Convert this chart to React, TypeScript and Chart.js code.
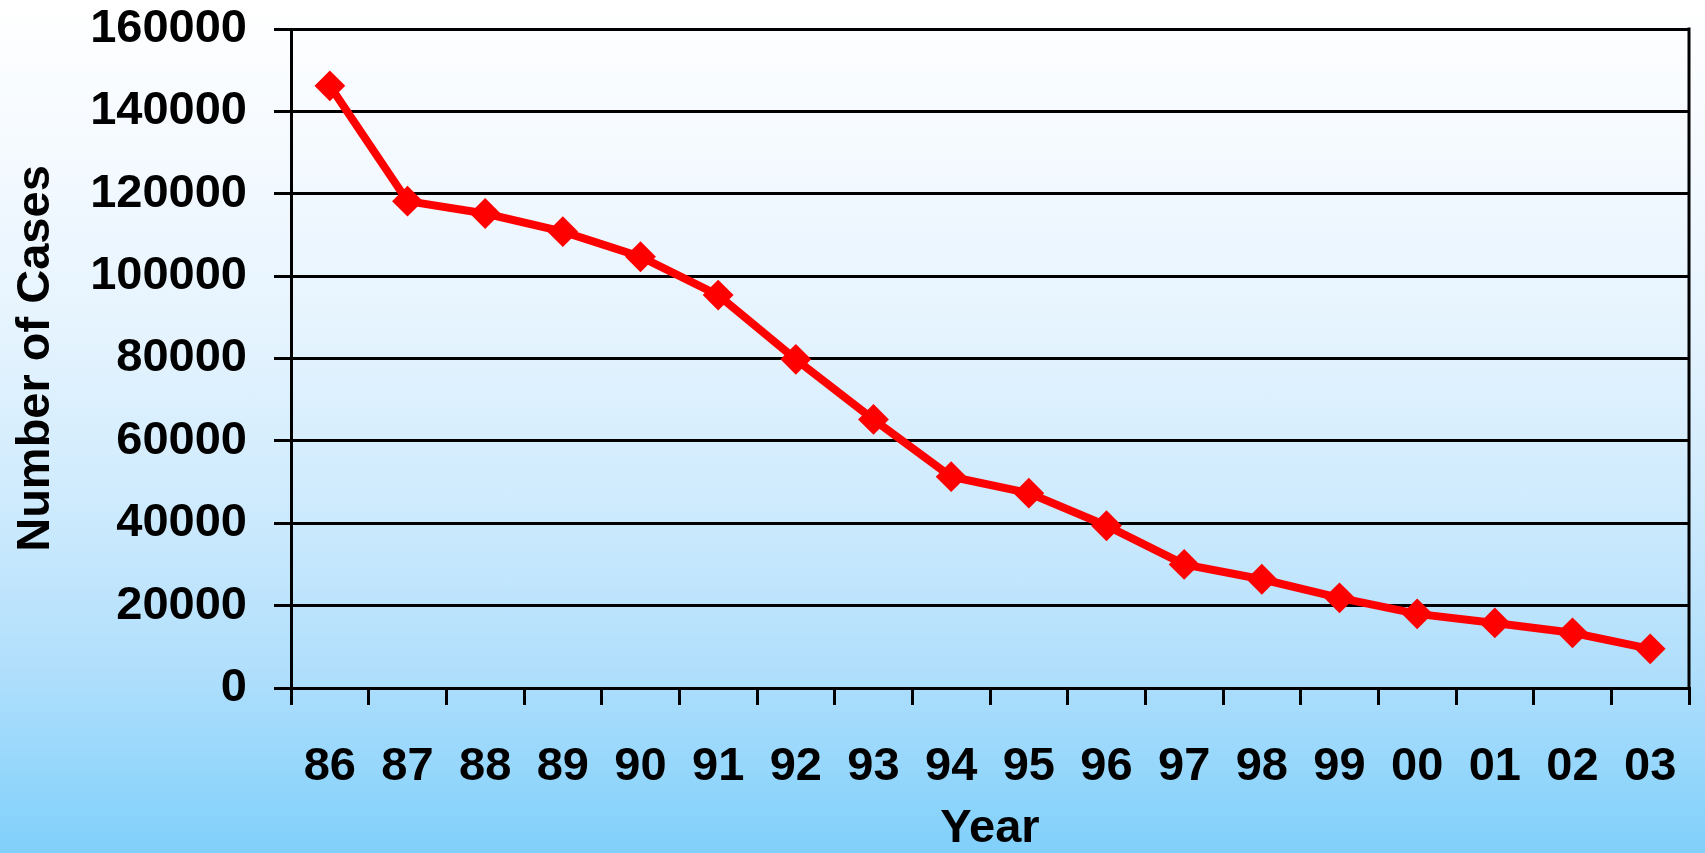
import React, { useEffect, useRef } from "react";
import { Chart, registerables } from "chart.js";

Chart.register(...registerables);

const years = ["86", "87", "88", "89", "90", "91", "92", "93", "94", "95", "96", "97", "98", "99", "00", "01", "02", "03"];
const cases = [146200, 118200, 115200, 110800, 104700, 95400, 79800, 65200, 51300, 47300, 39400, 30000, 26400, 21900, 18000, 15800, 13400, 9500];
const yMin = 0;
const yMax = 160000;
const yStep = 20000;
const xTitle = "Year";
const yTitle = "Number of Cases";

const FONT = "'Liberation Sans', Arial, sans-serif";

const rightBorder = {
  id: "rightBorder",
  beforeDatasetsDraw(chart: any) {
    const { ctx, chartArea } = chart;
    ctx.save();
    ctx.strokeStyle = "#000";
    ctx.lineWidth = 3;
    ctx.beginPath();
    ctx.moveTo(chartArea.right, chartArea.top - 1.5);
    ctx.lineTo(chartArea.right, chartArea.bottom);
    ctx.stroke();
    ctx.restore();
  },
};

export default function App() {
  const ref = useRef<HTMLCanvasElement>(null);

  useEffect(() => {
    document.body.style.margin = "0";
    const canvas = ref.current!;
    const chart = new Chart(canvas, {
      type: "line",
      data: {
        labels: years,
        datasets: [
          {
            data: cases,
            borderColor: "#ff0000",
            backgroundColor: "#ff0000",
            borderWidth: 8,
            pointStyle: "rectRot",
            pointRadius: 14,
            pointBorderWidth: 2,
            pointBackgroundColor: "#ff0000",
            pointBorderColor: "#ff0000",
            tension: 0,
          },
        ],
      },
      options: {
        responsive: false,
        animation: false,
        devicePixelRatio: 1,
        layout: { padding: { top: 29, right: 7, left: 0, bottom: 0 } },
        plugins: {
          legend: { display: false },
          tooltip: { enabled: false },
        },
        scales: {
          x: {
            type: "category",
            offset: true,
            grid: {
              offset: true,
              drawOnChartArea: false,
              drawTicks: true,
              tickLength: 17,
              color: "#000",
              lineWidth: 3,
            },
            border: { display: true, color: "#000", width: 3 },
            ticks: {
              color: "#000",
              padding: 34,
              maxRotation: 0,
              autoSkip: false,
              font: { family: FONT, size: 47, weight: "bold" },
            },
            title: {
              display: true,
              text: xTitle,
              color: "#000",
              padding: { top: -4, bottom: 0 },
              font: { family: FONT, size: 47, weight: "bold", lineHeight: 1 },
            },
            afterFit: (scale: any) => {
              scale.height = 165;
              scale.paddingLeft = 0;
              scale.paddingRight = 0;
            },
          },
          y: {
            min: yMin,
            max: yMax,
            ticks: {
              stepSize: yStep,
              color: "#000",
              padding: 27,
              font: { family: FONT, size: 47, weight: "bold" },
              callback: (v: any) => String(v),
            },
            grid: {
              color: "#000",
              lineWidth: 3,
              tickLength: 17,
            },
            border: { display: true, color: "#000", width: 3 },
            title: {
              display: true,
              text: yTitle,
              color: "#000",
              padding: { top: 13, bottom: 0 },
              font: { family: FONT, size: 47, weight: "bold", lineHeight: 1 },
            },
            afterFit: (scale: any) => {
              scale.width = 291;
              scale.paddingTop = 0;
              scale.paddingBottom = 0;
            },
          },
        },
      },
      plugins: [rightBorder],
    });
    return () => chart.destroy();
  }, []);

  return (
    <div
      style={{
        position: "absolute",
        left: 0,
        top: 0,
        width: 1705,
        height: 853,
        background:
          "linear-gradient(to bottom, #ffffff 0%, #f3f9ff 20%, #e4f3fe 40%, #cdeafd 60%, #b1dffc 78%, #80d0fb 100%)",
      }}
    >
      <canvas ref={ref} width={1705} height={853} style={{ display: "block" }} />
    </div>
  );
}
